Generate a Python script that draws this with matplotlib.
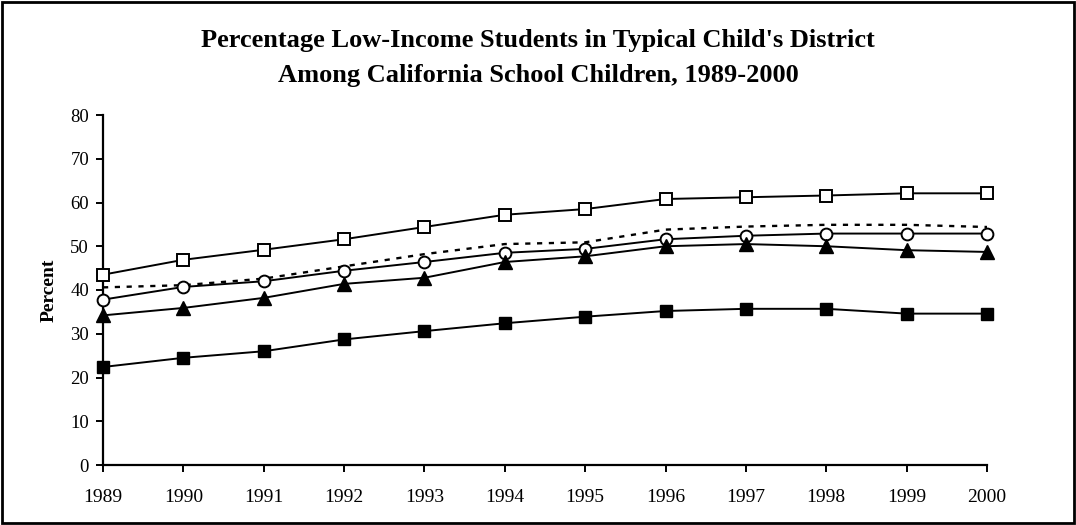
import matplotlib
matplotlib.use("Agg")
import matplotlib.pyplot as plt
from matplotlib.patches import Rectangle

years = [1989, 1990, 1991, 1992, 1993, 1994, 1995, 1996, 1997, 1998, 1999, 2000]
series_open_square = [43.5, 46.9, 49.2, 51.6, 54.4, 57.2, 58.5, 60.8, 61.2, 61.6, 62.1, 62.1]
series_dotted = [40.6, 41.1, 42.6, 45.4, 48.2, 50.5, 50.9, 53.8, 54.5, 54.9, 54.9, 54.4]
series_circle = [37.8, 40.7, 42.0, 44.4, 46.4, 48.5, 49.4, 51.6, 52.4, 52.9, 52.9, 52.9]
series_triangle = [34.2, 35.9, 38.2, 41.4, 42.8, 46.4, 47.7, 50.0, 50.5, 50.0, 49.1, 48.7]
series_filled_square = [22.4, 24.5, 26.0, 28.7, 30.6, 32.4, 33.9, 35.2, 35.7, 35.7, 34.6, 34.6]
y_ticks = [0, 10, 20, 30, 40, 50, 60, 70, 80]

plt.rcParams['font.family'] = ['Liberation Serif', 'DejaVu Serif']

fig = plt.figure(figsize=(10.76, 5.25), dpi=100)
ax = fig.add_axes([103/1076, 60/525, 884/1076, 350/525])

lw = 1.4
ax.plot(years, series_dotted, color='black', linestyle=(0, (2.2, 2.8)), linewidth=1.7, zorder=2)
ax.plot(years, series_open_square, color='black', linewidth=lw, marker='s', markersize=8,
        markerfacecolor='white', markeredgecolor='black', markeredgewidth=1.4, zorder=3)
ax.plot(years, series_circle, color='black', linewidth=lw, marker='o', markersize=8.5,
        markerfacecolor='white', markeredgecolor='black', markeredgewidth=1.4, zorder=3)
ax.plot(years, series_triangle, color='black', linewidth=lw, marker='^', markersize=9.5,
        markerfacecolor='black', markeredgecolor='black', zorder=3)
ax.plot(years, series_filled_square, color='black', linewidth=lw, marker='s', markersize=8,
        markerfacecolor='black', markeredgecolor='black', zorder=3)

ax.set_xlim(years[0], years[-1])
ax.set_ylim(0, 80)
ax.set_xticks(years)
ax.set_xticklabels([str(y) for y in years])
ax.set_yticks(y_ticks)
ax.spines['top'].set_visible(False)
ax.spines['right'].set_visible(False)
ax.spines['left'].set_linewidth(1.6)
ax.spines['bottom'].set_linewidth(1.6)
ax.tick_params(axis='both', direction='out', length=5, width=1.4, colors='black')
ax.tick_params(axis='x', pad=12, labelsize=14)
ax.tick_params(axis='y', pad=5, labelsize=13.5)
ax.set_ylabel('Percent', fontsize=14, fontweight='bold', labelpad=9)
for line in ax.lines:
    line.set_clip_on(False)

fig.text(0.5, 1 - 46.7/525, "Percentage Low-Income Students in Typical Child's District",
         ha='center', va='baseline', fontsize=19, fontweight='bold')
fig.text(0.5, 1 - 81.7/525, "Among California School Children, 1989-2000",
         ha='center', va='baseline', fontsize=19, fontweight='bold')

fig.patches.append(Rectangle((0.002, 0.003), 0.996, 0.994, transform=fig.transFigure,
                             fill=False, edgecolor='black', linewidth=2))

fig.savefig('out.png', dpi=100)
